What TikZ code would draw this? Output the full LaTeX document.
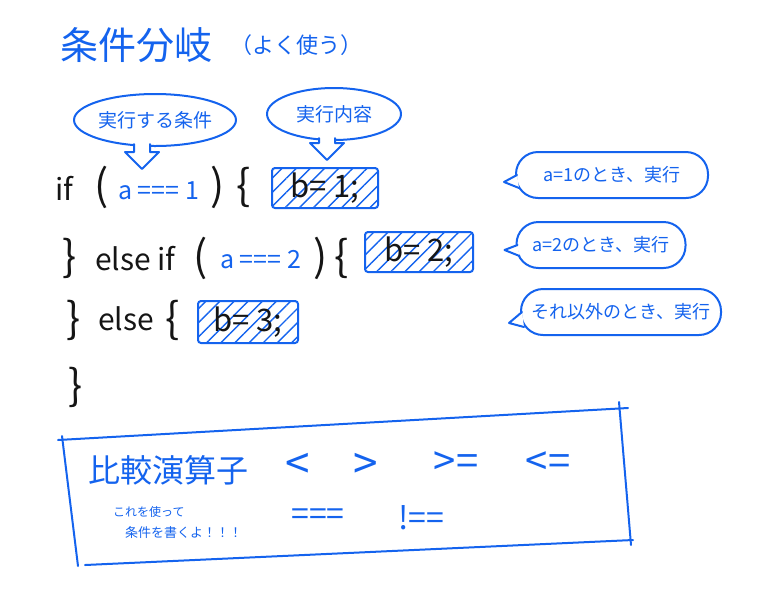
\documentclass[tikz,border=0pt]{standalone}
\usepackage{fontspec}
\setmainfont{Noto Sans CJK JP}
\usepackage{tikz}
\usetikzlibrary{arrows.meta,positioning,shapes.geometric,patterns.meta}
\definecolor{penblue}{HTML}{1463EE}
\definecolor{penink}{HTML}{151515}

\begin{document}
\begin{tikzpicture}[x=1pt,y=-1pt,
  pen/.style={draw=penblue,line width=2pt,line join=round,line cap=round},
  bubble/.style={pen,ellipse,fill=white,text=penblue,font=\fontsize{19}{22}\selectfont,inner sep=0pt},
  note/.style={pen,rounded corners=22pt,fill=white,text=penblue,font=\fontsize{18}{20}\selectfont,minimum height=46pt,inner sep=0pt},
  tail/.style={pen,fill=white},
  kw/.style={text=penink,font=\fontsize{30}{32}\selectfont,anchor=base west,inner sep=0pt},
  brace/.style={text=penink,font=\fontsize{42}{44}\selectfont,anchor=base west,inner sep=0pt},
  cond/.style={text=penblue,font=\fontsize{25}{27}\selectfont,anchor=base west,inner sep=0pt},
  stmt/.style={pen,rounded corners=3pt,pattern={Lines[angle=45,distance=10pt,line width=1.4pt]},pattern color=penblue,text=penink,font=\fontsize{31}{33}\selectfont,minimum height=40pt,inner sep=0pt},
  op/.style={text=penblue,font=\fontsize{44}{46}\selectfont,inner sep=0pt},
  cmpop/.style={text=penblue,font=\fontsize{40}{42}\selectfont,inner sep=0pt},
  eqop/.style={text=penblue,font=\fontsize{32}{34}\selectfont,inner sep=0pt}
]
\useasboundingbox (0,0) rectangle (770,606);
% title
\node[anchor=west,text=penblue,font=\fontsize{38}{40}\selectfont,inner sep=0pt] (title) at (60,45) {条件分岐};
\node[right=18pt of title,text=penblue,font=\fontsize{22}{24}\selectfont,inner sep=0pt] (often) {（よく使う）};
% upper bubbles
\node[bubble,minimum width=162pt,minimum height=52pt] (askA) at (155,120) {実行する条件};
\node[bubble,minimum width=134pt,minimum height=52pt] (askB) at (334,114) {実行内容};
\draw[tail] (askA.south) ++(-21,-3) -- ++(0,8) -- ++(-9,0) -- ++(17,17) -- ++(17,-17) -- ++(-9,0) -- ++(0,-8);
\draw[tail] (askB.south) ++(-15,-3) -- ++(0,5) -- ++(-9,0) -- ++(17,17) -- ++(17,-17) -- ++(-9,0) -- ++(0,-5);
% code lines
\node[kw] (if1) at (55,200) {if};
\node[brace] (lp1) at (94,200) {(};
\node[cond] (cond1) at (118,199) {a === 1};
\node[brace] (rp1) at (210,200) {)};
\node[brace] (lb1) at (236,200) {\{};
\node[stmt,minimum width=106pt] (stmt1) at (325,188) {b= 1;};

\node[brace] (rb2) at (62,271) {\}};
\node[kw] (elif2) at (95,270) {else if};
\node[brace] (lp2) at (193,271) {(};
\node[cond] (cond2) at (220,268) {a === 2};
\node[brace] (rp2) at (313,271) {)};
\node[brace] (lb2) at (334,271) {\{};
\node[stmt,minimum width=108pt] (stmt2) at (419,252) {b= 2;};

\node[brace] (rb3) at (66,333) {\}};
\node[kw] (else3) at (98,330) {else};
\node[brace] (lb3) at (165,333) {\{};
\node[stmt,minimum width=100pt,minimum height=42pt] (stmt3) at (248,322) {b= 3;};

\node[brace] (rb4) at (68,400) {\}};
% notes on the right
\node[note,minimum width=192pt] (noteA) at (612,175) {a=1のとき、実行};
\node[note,minimum width=169pt] (noteB) at (601,245) {a=2のとき、実行};
\node[note,minimum width=200pt] (noteC) at (621,312) {それ以外のとき、実行};
\draw[tail] (noteA.west) ++(2,0) -- ++(-13,7) -- ++(15,6);
\draw[tail] (noteB.west) ++(2,0) -- ++(-13,5) -- ++(15,6);
\draw[tail] (noteC.west) ++(2,0) -- ++(-13,11) -- ++(15,4);
% operator frame
\draw[pen] (58,440) -- (628,408);
\draw[pen] (619,402) -- (631,545);
\draw[pen] (85,565) -- (633,540);
\draw[pen] (62,436) -- (78,566);
\node[anchor=west,text=penblue,font=\fontsize{32}{34}\selectfont,inner sep=0pt] (cmp) at (88,470) {比較演算子};
\node[op] (lt) at (298,466) {<};
\node[op] (gt) at (366,466) {>};
\node[cmpop] (ge) at (456,464) {>=};
\node[cmpop] (le) at (548,464) {<=};
\node[eqop] (eq) at (318,517) {===};
\node[eqop] (ne) at (421,518) {!==};
\node[anchor=west,text=penblue,font=\fontsize{12}{14}\selectfont,inner sep=0pt] (use) at (113,512) {これを使って};
\node[anchor=west,text=penblue,font=\fontsize{13}{15}\selectfont,inner sep=0pt] (write) at (125,533) {条件を書くよ！！！};
\end{tikzpicture}
\end{document}
